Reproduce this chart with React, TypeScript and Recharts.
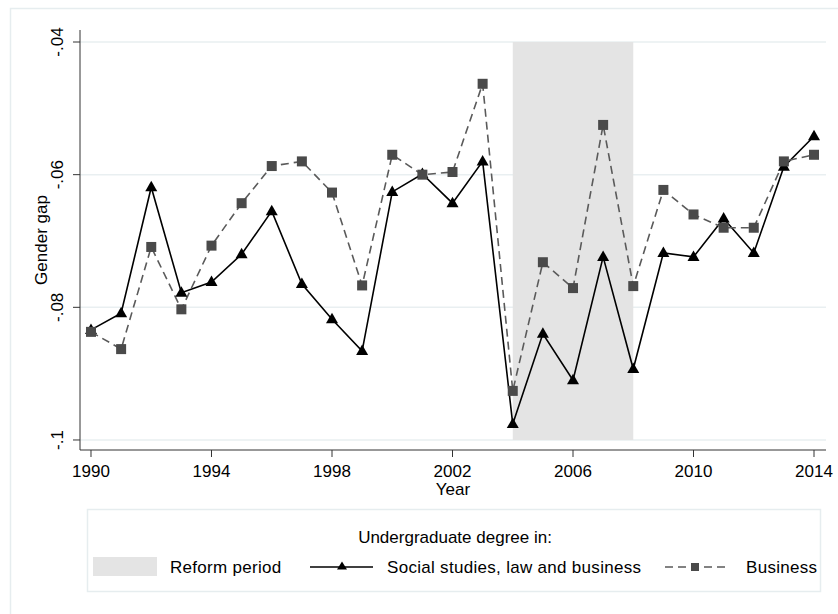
import React from "react";
import {
  ComposedChart,
  Line,
  XAxis,
  YAxis,
  CartesianGrid,
  ReferenceArea,
  Label,
} from "recharts";

const years = [
  1990, 1991, 1992, 1993, 1994, 1995, 1996, 1997, 1998, 1999, 2000, 2001, 2002,
  2003, 2004, 2005, 2006, 2007, 2008, 2009, 2010, 2011, 2012, 2013, 2014,
];
const socialStudies = [
  -0.0834, -0.0809, -0.0619, -0.0778, -0.0762, -0.072, -0.0655, -0.0765,
  -0.0818, -0.0866, -0.0626, -0.0599, -0.0643, -0.058, -0.0976, -0.084,
  -0.091, -0.0724, -0.0893, -0.0718, -0.0724, -0.0666, -0.0718, -0.0588,
  -0.0542,
];
const business = [
  -0.0837, -0.0863, -0.0709, -0.0803, -0.0707, -0.0643, -0.0587, -0.058,
  -0.0627, -0.0767, -0.057, -0.06, -0.0596, -0.0463, -0.0926, -0.0732,
  -0.0771, -0.0525, -0.0768, -0.0623, -0.066, -0.068, -0.068, -0.058, -0.057,
];
const xTicks = [1990, 1994, 1998, 2002, 2006, 2010, 2014];
const yTicks = [-0.1, -0.08, -0.06, -0.04];
const yTickLabels = ["-.1", "-.08", "-.06", "-.04"];
const reformStart = 2004;
const reformEnd = 2008;

const data = years.map((y, i) => ({
  year: y,
  social: socialStudies[i],
  business: business[i],
}));

const FONT = "Arial, 'Liberation Sans', sans-serif";
const GRID = "#e9eff1";

const Triangle = (props: any) => {
  const { cx, cy } = props;
  if (cx == null || cy == null) return null;
  return (
    <polygon
      points={`${cx},${cy - 6.5} ${cx - 6},${cy + 4} ${cx + 6},${cy + 4}`}
      fill="#000"
    />
  );
};

const Square = (props: any) => {
  const { cx, cy } = props;
  if (cx == null || cy == null) return null;
  return <rect x={cx - 5} y={cy - 5} width={10} height={10} fill="#4a4a4a" />;
};

const YTick = (props: any) => {
  const { y, payload } = props;
  const idx = yTicks.indexOf(payload.value);
  const label = idx >= 0 ? yTickLabels[idx] : String(payload.value);
  return (
    <text
      x={63}
      y={y}
      transform={`rotate(-90, 63, ${y})`}
      textAnchor="middle"
      fontSize={17}
      fontFamily={FONT}
      fill="#000"
    >
      {label}
    </text>
  );
};

const XTick = (props: any) => {
  const { x, payload } = props;
  return (
    <text
      x={x}
      y={477}
      textAnchor="middle"
      fontSize={17}
      fontFamily={FONT}
      fill="#000"
    >
      {payload.value}
    </text>
  );
};

export default function App() {
  return (
    <div
      style={{
        position: "absolute",
        left: 0,
        top: 0,
        width: 838,
        height: 614,
        background: "#fff",
        overflow: "hidden",
      }}
    >
      <svg
        width={838}
        height={614}
        style={{ position: "absolute", left: 0, top: 0 }}
      >
        <rect
          x={10.5}
          y={8.5}
          width={900}
          height={700}
          fill="#fff"
          stroke="#e6edef"
          strokeWidth={1.5}
        />
      </svg>
      <div style={{ position: "absolute", left: 0, top: 0 }}>
        <ComposedChart
          width={838}
          height={614}
          data={data}
          margin={{ top: 30, right: 12, bottom: 124, left: 0 }}
        >
          <CartesianGrid
            vertical={false}
            stroke={GRID}
            strokeWidth={1.5}
            horizontalValues={yTicks}
          />
          <ReferenceArea
            x1={reformStart}
            x2={reformEnd}
            y1={-0.1}
            y2={-0.04}
            fill="#e4e4e4"
            fillOpacity={1}
            stroke="none"
            ifOverflow="visible"
          />
          <XAxis
            dataKey="year"
            type="number"
            domain={[1989.635, 2014.398]}
            allowDataOverflow
            ticks={xTicks}
            tick={<XTick />}
            tickSize={7}
            height={40}
            stroke="#333"
            tickLine={{ stroke: "#333" }}
          />
          <YAxis
            type="number"
            domain={[-0.10151, -0.03819]}
            allowDataOverflow
            ticks={yTicks}
            tick={<YTick />}
            tickSize={7}
            width={80}
            stroke="#333"
            tickLine={{ stroke: "#333" }}
          />
          <Line
            dataKey="social"
            stroke="#000"
            strokeWidth={1.6}
            dot={<Triangle />}
            activeDot={false}
            isAnimationActive={false}
          />
          <Line
            dataKey="business"
            stroke="#5a5a5a"
            strokeWidth={1.6}
            strokeDasharray="8 5"
            dot={<Square />}
            activeDot={false}
            isAnimationActive={false}
          />
        </ComposedChart>
      </div>
      <svg
        width={838}
        height={614}
        style={{ position: "absolute", left: 0, top: 0, pointerEvents: "none" }}
        fontFamily={FONT}
      >
        <text
          x={47}
          y={240}
          transform="rotate(-90, 47, 240)"
          textAnchor="middle"
          fontSize={17}
          fill="#000"
        >
          Gender gap
        </text>
        <text x={453} y={495} textAnchor="middle" fontSize={17} fill="#000">
          Year
        </text>
        <rect
          x={87.5}
          y={509.5}
          width={733}
          height={82}
          fill="#fff"
          stroke="#e6edef"
          strokeWidth={1.5}
        />
        <text x={455} y={543} textAnchor="middle" fontSize={17} fill="#000">
          Undergraduate degree in:
        </text>
        <rect x={93} y={557} width={64} height={19} fill="#e4e4e4" />
        <text x={170} y={573} fontSize={17} fill="#000" letterSpacing={0.3}>
          Reform period
        </text>
        <line x1={310} y1={567} x2={373} y2={567} stroke="#000" strokeWidth={1.6} />
        <polygon points="342,561.5 337,569.5 347,569.5" fill="#000" />
        <text x={387} y={573} fontSize={17} fill="#000" letterSpacing={0.3}>
          Social studies, law and business
        </text>
        <line
          x1={665}
          y1={567}
          x2={727}
          y2={567}
          stroke="#5a5a5a"
          strokeWidth={1.6}
          strokeDasharray="8 5"
        />
        <rect x={691} y={563} width={8} height={8} fill="#4a4a4a" />
        <text x={746} y={573} fontSize={17} fill="#000" letterSpacing={0.3}>
          Business
        </text>
      </svg>
    </div>
  );
}
